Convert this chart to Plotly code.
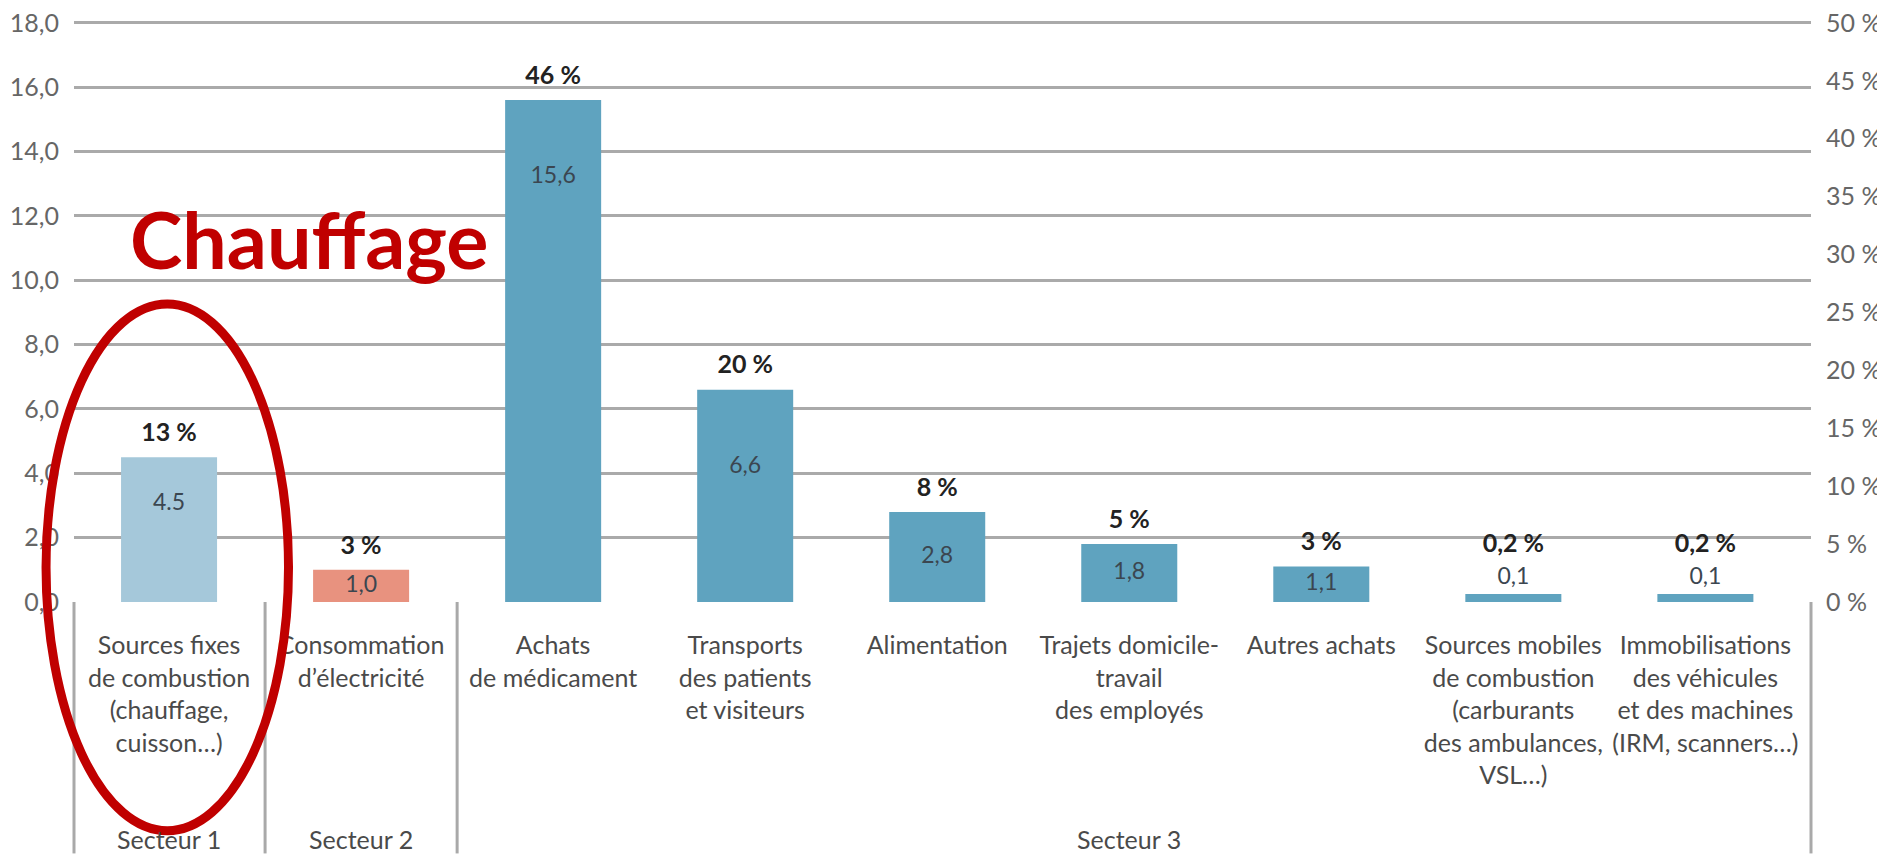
import plotly.graph_objects as go

# categories (x axis), with the sector each one belongs to
categories = [
    "Sources fixes<br>de combustion<br>(chauffage,<br>cuisson…)",
    "Consommation<br>d’électricité",
    "Achats<br>de médicament",
    "Transports<br>des patients<br>et visiteurs",
    "Alimentation",
    "Trajets domicile-<br>travail<br>des employés",
    "Autres achats",
    "Sources mobiles<br>de combustion<br>(carburants<br>des ambulances,<br>VSL…)",
    "Immobilisations<br>des véhicules<br>et des machines<br>(IRM, scanners…)",
]
sectors = ["Secteur 1", "Secteur 2", "Secteur 3", "Secteur 3", "Secteur 3",
           "Secteur 3", "Secteur 3", "Secteur 3", "Secteur 3"]

# bar heights as drawn, the printed value and the share of the total
values = [4.5, 1.0, 15.6, 6.6, 2.8, 1.8, 1.1, 0.25, 0.25]
value_labels = ["4.5", "1,0", "15,6", "6,6", "2,8", "1,8", "1,1", "0,1", "0,1"]
shares = ["13 %", "3 %", "46 %", "20 %", "8 %", "5 %", "3 %", "0,2 %", "0,2 %"]

sector_colors = {"Secteur 1": "#a5c8da", "Secteur 2": "#e8927f", "Secteur 3": "#5fa3bf"}
FONT = "Lato, sans-serif"

x = list(range(len(categories)))

# value label: inside the bar near its top, or just above a very small bar
val_y, share_y = [], []
for v in values:
    if v > 0.5:
        val_y.append(v - (2.4 if v > 6 else min(0.5 * v, 1.45)))
        share_y.append(v + 0.7)
    else:
        val_y.append(v + 0.5)
        share_y.append(v + 1.5)

fig = go.Figure()
fig.add_trace(go.Bar(
    x=x, y=values, width=0.5,
    marker=dict(color=[sector_colors[s] for s in sectors], line_width=0),
    hoverinfo="skip",
))
fig.add_trace(go.Scatter(
    x=x, y=val_y, text=value_labels, mode="text", textposition="middle center",
    textfont=dict(family=FONT, size=23, color="#3b4650"), hoverinfo="skip",
))
fig.add_trace(go.Scatter(
    x=x, y=share_y, text=shares, mode="text", textposition="middle center",
    textfont=dict(family=FONT, size=25, color="#222222", weight="bold"), hoverinfo="skip",
))
# empty trace so the right-hand % axis is drawn
fig.add_trace(go.Scatter(x=[None], y=[None], yaxis="y2", showlegend=False, hoverinfo="skip"))

# vertical dividers below the axis: plot edges and sector boundaries
bounds = [i + 0.5 for i in range(len(sectors) - 1) if sectors[i] != sectors[i + 1]]
line_style = dict(color="#a9a9a9", width=3)
fig.add_shape(type="line", xref="paper", yref="paper", x0=0, x1=0, y0=0, y1=-0.432, line=line_style)
fig.add_shape(type="line", xref="paper", yref="paper", x0=1, x1=1, y0=0, y1=-0.432, line=line_style)
for b in bounds:
    fig.add_shape(type="line", xref="x", yref="paper", x0=b, x1=b, y0=0, y1=-0.432, line=line_style)

# sector names centred under their group of categories
for s in dict.fromkeys(sectors):
    idx = [i for i, t in enumerate(sectors) if t == s]
    fig.add_annotation(
        x=sum(idx) / len(idx), y=-0.407, xref="x", yref="paper", text=s, showarrow=False,
        font=dict(family=FONT, size=25, color="#4a4a4a"), yanchor="middle",
    )

# red highlight
fig.add_shape(type="circle", xref="paper", yref="paper",
              x0=-0.0161, x1=0.1235, y0=-0.393, y1=0.512,
              line=dict(color="#c00000", width=9), layer="above")
fig.add_annotation(
    x=0.1355, y=0.624, xref="paper", yref="paper", text="<b>Chauffage</b>", showarrow=False,
    font=dict(family="Lato", size=79, color="#c00000"), xanchor="center", yanchor="middle",
)

# the page adds an 8 px body margin, so the figure is 8 px smaller and shifted;
# the ranges run slightly past 18 / 50 so the top gridline is kept
fig.update_layout(
    width=1877, height=859,
    margin=dict(l=66, r=74, t=12, b=265),
    plot_bgcolor="white", paper_bgcolor="white",
    showlegend=False, separators=", ",
    xaxis=dict(
        range=[-0.495, 8.55], tickvals=x, ticktext=categories, tickangle=0,
        showgrid=False, zeroline=False, showline=False, ticks="", automargin=False,
        tickfont=dict(family=FONT, size=25, color="#4a4a4a"), ticklabelstandoff=26,
    ),
    yaxis=dict(
        range=[0, 18.09], tick0=0, dtick=2, tickformat=".1f", ticklabeloverflow="allow",
        automargin=False, showgrid=True, gridcolor="#aaaaaa", gridwidth=3, zeroline=False,
        tickfont=dict(family=FONT, size=25, color="#666666"), ticklabelstandoff=14,
    ),
    yaxis2=dict(
        overlaying="y", side="right", range=[0, 50.25], tick0=0, dtick=5, ticksuffix=" %",
        ticklabeloverflow="allow", showgrid=False, zeroline=False, automargin=False,
        tickfont=dict(family=FONT, size=25, color="#666666"), ticklabelstandoff=14,
    ),
)

fig.write_html("out.html")
